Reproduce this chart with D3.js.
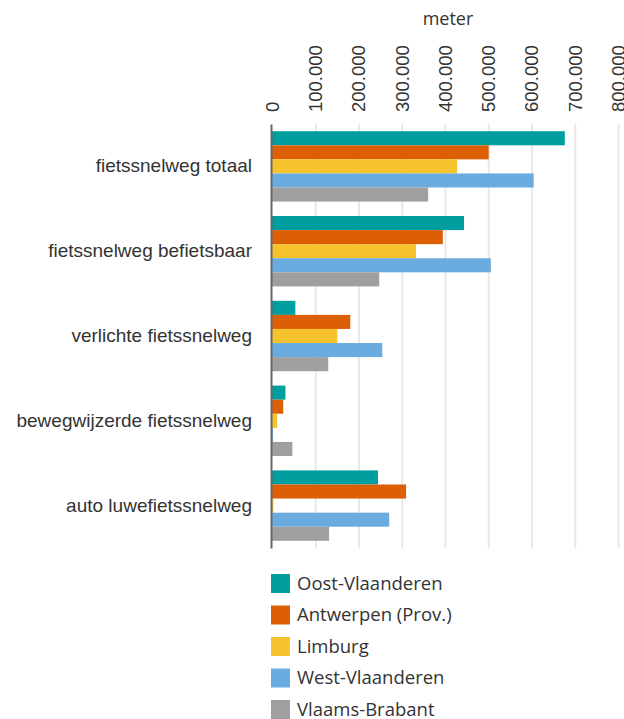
<!DOCTYPE html>
<html lang="nl">
<head>
<meta charset="utf-8">
<title>fietssnelwegen per provincie</title>
<script src="https://d3js.org/d3.v7.min.js"></script>
<style>
  body{margin:0;background:#fff;font-family:"Open Sans",sans-serif;}
  .grid line{stroke:#e8e8e8;stroke-width:2;}
  .grid path{display:none;}
  .xaxis path,.xaxis line{display:none;}
  .xaxis text{font-size:18.5px;fill:#333;}
  .cat text{font-size:19px;fill:#333;}
  .legend text{font-size:18.5px;fill:#333;}
</style>
</head>
<body>
<div id="chart"></div>
<script>
// data
var categories = ["fietssnelweg totaal","fietssnelweg befietsbaar","verlichte fietssnelweg","bewegwijzerde fietssnelweg","auto luwefietssnelweg"]
var provinces = ["Oost-Vlaanderen","Antwerpen (Prov.)","Limburg","West-Vlaanderen","Vlaams-Brabant"]
var colors = ["#009e9f","#dc5f06","#f6c32c","#6aace0","#9f9f9f"]
var oostVl   = [677000,444000,54000,31000,245000]
var antwerpen = [501000,395000,181000,26000,310000]
var limburg  = [428000,333000,151000,12000,3000]
var westVl   = [605000,506000,255000,2000,271000]
var vlBrabant = [361000,248000,130000,47000,132000]
var tickValues = [0,100000,200000,300000,400000,500000,600000,700000,800000]

var series = [oostVl,antwerpen,limburg,westVl,vlBrabant]

var W = 624, H = 719
var mLeft = 272, mRight = 618, mTop = 124, mBottom = 548

var svg = d3.select("#chart").append("svg")
    .attr("width",W).attr("height",H)

var x = d3.scaleLinear().domain([0,800000]).range([mLeft,mRight])
var y = d3.scaleBand().domain(categories).range([mTop,mBottom]).paddingInner(0.17).paddingOuter(0.085)
var yInner = d3.scaleBand().domain(d3.range(provinces.length)).range([0,y.bandwidth()])

var fmt = function(d){ return d3.format(",")(d).replace(/,/g,".") }

// gridlines
svg.append("g").attr("class","grid")
    .attr("transform","translate(0,"+mBottom+")")
    .call(d3.axisBottom(x).tickValues(tickValues.slice(1)).tickSize(-(mBottom-mTop)).tickFormat(""))

// tick labels on top, rotated
var xa = svg.append("g").attr("class","xaxis")
    .attr("transform","translate(0,112)")
    .call(d3.axisTop(x).tickValues(tickValues).tickSize(0).tickFormat(fmt))
xa.selectAll("text")
    .attr("transform","rotate(-90)")
    .attr("text-anchor","start")
    .attr("x",0).attr("y",0).attr("dy","0.35em")

svg.append("text")
    .attr("x",(mLeft+mRight)/2+3).attr("y",25)
    .attr("text-anchor","middle")
    .style("font-size","18px").style("fill","#333")
    .text("meter")

// bars
var groups = svg.selectAll(".grp")
    .data(categories)
    .enter().append("g")
    .attr("class","grp")
    .attr("transform",function(d){ return "translate(0,"+y(d)+")" })

groups.selectAll("rect")
    .data(function(d,i){ return series.map(function(s,j){ return {k:j, v:s[i]} }) })
    .enter().append("rect")
    .attr("x",x(0))
    .attr("y",function(d){ return yInner(d.k) })
    .attr("height",yInner.bandwidth())
    .attr("width",function(d){ return x(d.v)-x(0) })
    .attr("fill",function(d){ return colors[d.k] })

// category axis
var ya = svg.append("g").attr("class","cat")
    .attr("transform","translate("+(mLeft-1)+",0)")
    .call(d3.axisLeft(y).tickSize(0).tickPadding(19))
ya.select("path").attr("stroke","#666").attr("stroke-width",2)

// legend
var lg = svg.selectAll(".legend")
    .data(provinces)
    .enter().append("g")
    .attr("class","legend")
    .attr("transform",function(d,i){ return "translate(271,"+(574+i*31.5)+")" })
lg.append("rect").attr("width",19).attr("height",19)
    .attr("fill",function(d,i){ return colors[i] })
lg.append("text").attr("x",26).attr("y",9.5).attr("dy","0.35em")
    .text(function(d){ return d })
</script>
</body>
</html>
